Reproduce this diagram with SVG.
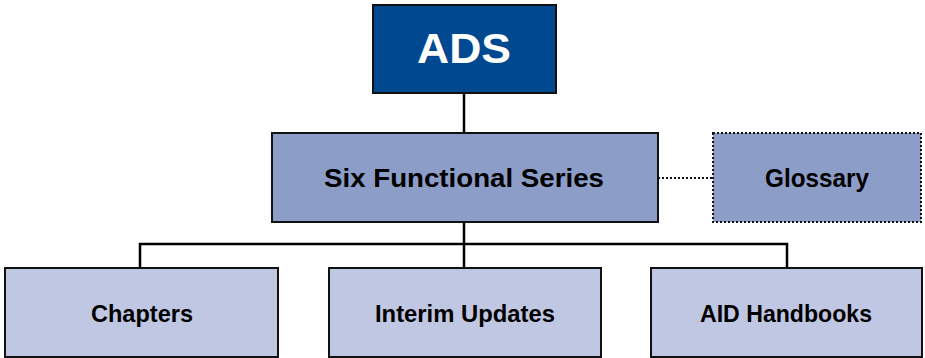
<svg xmlns="http://www.w3.org/2000/svg" width="925" height="358" viewBox="0 0 925 358">
<style>
.box{stroke:#111;stroke-width:2}
.dot{stroke:#111;stroke-width:2;stroke-dasharray:2 2}
.lbl{font-family:"Liberation Sans",Arial,sans-serif;font-weight:bold;text-anchor:middle;fill:#000}
.conn{stroke:#000;stroke-width:2.5;fill:none}
</style>
<rect width="925" height="358" fill="#fff"/>
<g id="connectors">
<line class="conn" x1="464" y1="93" x2="464" y2="133"/>
<path class="conn" d="M464 222 V244 M140 275 V244 H787 V275 M464 244 V268"/>
<line class="dot" x1="658" y1="178" x2="713" y2="178"/>
</g>
<g id="ads">
<rect class="box" x="373" y="5" width="183" height="88" fill="#004990"/>
<text class="lbl" x="464" y="63" font-size="42" fill="#fff" style="fill:#fff" textLength="94" lengthAdjust="spacingAndGlyphs">ADS</text>
</g>
<g id="six">
<rect class="box" x="272" y="133" width="386" height="89" fill="#8c9dc8"/>
<text class="lbl" x="464" y="187" font-size="26" textLength="280" lengthAdjust="spacingAndGlyphs">Six Functional Series</text>
</g>
<g id="glossary">
<rect class="dot" x="713" y="133" width="208" height="89" fill="#8c9dc8"/>
<text class="lbl" x="817" y="187" font-size="25" textLength="104" lengthAdjust="spacingAndGlyphs">Glossary</text>
</g>
<g id="chapters">
<rect class="box" x="5" y="268" width="273" height="89" fill="#c0c7e2"/>
<text class="lbl" x="142" y="322" font-size="24" textLength="102" lengthAdjust="spacingAndGlyphs">Chapters</text>
</g>
<g id="interim">
<rect class="box" x="329" y="268" width="272" height="89" fill="#c0c7e2"/>
<text class="lbl" x="465" y="322" font-size="24" textLength="180" lengthAdjust="spacingAndGlyphs">Interim Updates</text>
</g>
<g id="aid">
<rect class="box" x="651" y="268" width="271" height="89" fill="#c0c7e2"/>
<text class="lbl" x="786" y="322" font-size="24" textLength="172" lengthAdjust="spacingAndGlyphs">AID Handbooks</text>
</g>
</svg>
